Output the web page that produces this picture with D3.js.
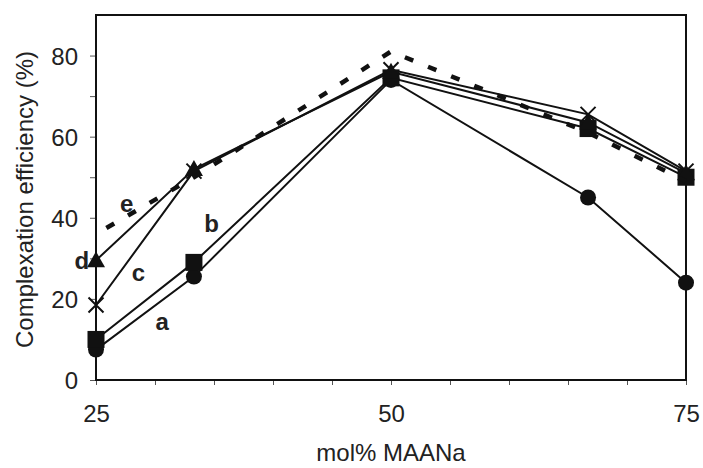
<!DOCTYPE html>
<html>
<head>
<meta charset="utf-8">
<script src="https://cdn.jsdelivr.net/npm/d3@7"></script>
<style>
  html, body { margin: 0; padding: 0; background: #fff; }
  svg { display: block; }
  text { font-family: Arial, "Liberation Sans", sans-serif; fill: #222; }
</style>
</head>
<body>
<div id="chart"></div>
<script>
// ---- data ----
const xValues = [25, 33.3, 50, 66.7, 75];
const seriesA = [7.5, 25.5, 74, 45, 24];        // circles
const seriesB = [10, 29, 74.5, 62, 50];         // squares
const seriesC = [18.5, 51.5, 76.5, 65.5, 51.5]; // crosses
const seriesD = [29.5, 52, 76, 63.5, 51];       // triangles
const seriesE = [36, 50, 81, 61, 49];           // dashed, no markers
const seriesNames = ["a", "b", "c", "d", "e"];
const xTickLabels = [25, 50, 75];
const yTickLabels = [0, 20, 40, 60, 80];
const xTitle = "mol% MAANa";
const yTitle = "Complexation efficiency (%)";

// ---- layout ----
const W = 703, H = 468;
const m = { left: 96, right: 17, top: 15, bottom: 88 };

const svg = d3.select("#chart").append("svg").attr("width", W).attr("height", H);

const x = d3.scaleLinear().domain([25, 75]).range([m.left, W - m.right]);
const y = d3.scaleLinear().domain([0, 90]).range([H - m.bottom, m.top]);

// axes
const xAxis = d3.axisBottom(x).tickValues(d3.range(25, 75.01, 5)).tickSize(5)
  .tickFormat(d => xTickLabels.includes(d) ? d : "");
const yAxis = d3.axisLeft(y).tickValues(d3.range(0, 90, 10)).tickSize(6)
  .tickFormat(d => yTickLabels.includes(d) ? d : "");

const gx = svg.append("g").attr("transform", `translate(0,${y(0)})`).call(xAxis);
gx.select(".domain").remove();
gx.selectAll("line").attr("stroke", "#555").attr("stroke-width", 1);
gx.selectAll("text").attr("font-size", 24).attr("dy", "1.4em").attr("fill", "#222");

const gy = svg.append("g").attr("transform", `translate(${x(25)},0)`).call(yAxis);
gy.select(".domain").remove();
gy.selectAll("line").attr("stroke", "#555").attr("stroke-width", 1);
gy.selectAll("text").attr("font-size", 24).attr("x", -18).attr("dy", "0.36em").attr("fill", "#222");

// frame
svg.append("rect")
  .attr("x", x(25)).attr("y", y(90))
  .attr("width", x(75) - x(25)).attr("height", y(0) - y(90))
  .attr("fill", "none").attr("stroke", "#111").attr("stroke-width", 2);

// titles
svg.append("text").attr("x", (x(25) + x(75)) / 2).attr("y", 461)
  .attr("text-anchor", "middle").attr("font-size", 24).text(xTitle);
svg.append("text")
  .attr("transform", `translate(33,${(y(0) + y(90)) / 2 + 2}) rotate(-90)`)
  .attr("text-anchor", "middle").attr("font-size", 24).text(yTitle);

// lines
const line = d3.line().x((d, i) => x(xValues[i])).y(d => y(d));
[seriesA, seriesB, seriesC, seriesD].forEach(s => {
  svg.append("path").datum(s).attr("d", line)
    .attr("fill", "none").attr("stroke", "#111").attr("stroke-width", 2);
});

// markers
svg.append("g").selectAll("circle").data(seriesA).join("circle")
  .attr("cx", (d, i) => x(xValues[i])).attr("cy", d => y(d)).attr("r", 8).attr("fill", "#111");

const sq = 17;
svg.append("g").selectAll("rect").data(seriesB).join("rect")
  .attr("x", (d, i) => x(xValues[i]) - sq / 2).attr("y", d => y(d) - sq / 2)
  .attr("width", sq).attr("height", sq).attr("fill", "#111");

const cs = 7.5;
svg.append("g").selectAll("path").data(seriesC).join("path")
  .attr("d", (d, i) => {
    const cx = x(xValues[i]), cy = y(d);
    return `M${cx - cs},${cy - cs}L${cx + cs},${cy + cs}M${cx - cs},${cy + cs}L${cx + cs},${cy - cs}`;
  })
  .attr("stroke", "#111").attr("stroke-width", 2).attr("fill", "none");

svg.append("g").selectAll("path").data(seriesD).join("path")
  .attr("d", (d, i) => {
    const cx = x(xValues[i]), cy = y(d);
    return `M${cx},${cy - 9}L${cx + 9},${cy + 7}L${cx - 9},${cy + 7}Z`;
  })
  .attr("fill", "#111");

// dashed series e
svg.append("path").datum(seriesE).attr("d", line)
  .attr("fill", "none").attr("stroke", "#111").attr("stroke-width", 4.5)
  .attr("stroke-dasharray", "9,16").attr("stroke-dashoffset", -12);

// series labels
const labels = [
  { n: seriesNames[0], xv: 30.6, yv: 14.5 },
  { n: seriesNames[1], xv: 34.8, yv: 38.5 },
  { n: seriesNames[2], xv: 28.6, yv: 26.5 },
  { n: seriesNames[3], xv: 23.8, yv: 29.5 },
  { n: seriesNames[4], xv: 27.6, yv: 43.5 }
];
svg.append("g").selectAll("text").data(labels).join("text")
  .attr("x", d => x(d.xv)).attr("y", d => y(d.yv))
  .attr("dy", "0.35em").attr("text-anchor", "middle")
  .attr("font-size", 24).attr("font-weight", "bold").attr("fill", "#222")
  .text(d => d.n);
</script>
</body>
</html>
